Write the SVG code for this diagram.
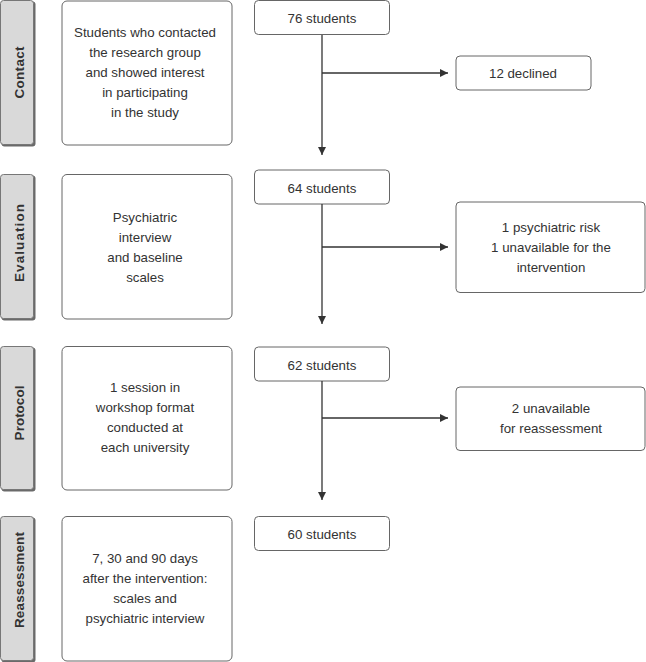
<svg xmlns="http://www.w3.org/2000/svg" width="646" height="662" viewBox="0 0 646 662">
<style>
.bg{fill:#ffffff}
.box{fill:#ffffff;stroke:#666666;stroke-width:1}
.lab{fill:#d9d9d9;stroke:#777777;stroke-width:1}
.shadow{fill:#6a6a6a}
.t{font-family:"Liberation Sans",Arial,sans-serif;font-size:13.3px;fill:#333333;text-anchor:middle}
.lt{font-family:"Liberation Sans",Arial,sans-serif;font-size:13.5px;font-weight:bold;fill:#333333;text-anchor:middle}
.ln{stroke:#333333;stroke-width:1.3;fill:none}
</style>
<defs>
<marker id="ah" markerWidth="10" markerHeight="10" refX="9" refY="5" orient="auto" markerUnits="userSpaceOnUse">
<path d="M1,1 L9,5 L1,9 Z" fill="#333333"/>
</marker>
</defs>
<rect class="bg" x="0" y="0" width="646" height="662"/>

<g id="label-contact">
<rect class="shadow" x="1.5" y="1.5" width="34" height="145" rx="3"/>
<rect class="lab" x="0.5" y="0.5" width="33" height="144" rx="3"/>
<text class="lt" transform="translate(23.5,72.5) rotate(-90)" textLength="52" lengthAdjust="spacing">Contact</text>
</g>
<g id="label-evaluation">
<rect class="shadow" x="1.5" y="175.5" width="34" height="145" rx="3"/>
<rect class="lab" x="0.5" y="174.5" width="33" height="144" rx="3"/>
<text class="lt" transform="translate(23.5,243) rotate(-90)" textLength="78" lengthAdjust="spacing">Evaluation</text>
</g>
<g id="label-protocol">
<rect class="shadow" x="1.5" y="347.5" width="34" height="144" rx="3"/>
<rect class="lab" x="0.5" y="346.5" width="33" height="143" rx="3"/>
<text class="lt" transform="translate(23.5,413) rotate(-90)">Protocol</text>
</g>
<g id="label-reassessment">
<rect class="shadow" x="1.5" y="517.5" width="34" height="145" rx="3"/>
<rect class="lab" x="0.5" y="516.5" width="33" height="144" rx="3"/>
<text class="lt" transform="translate(23.5,580) rotate(-90)" textLength="96" lengthAdjust="spacing">Reassessment</text>
</g>

<g id="desc-contact">
<rect class="box" x="62" y="1" width="170" height="144" rx="5"/>
<text class="t" x="145" y="37">Students who contacted</text>
<text class="t" x="145" y="57">the research group</text>
<text class="t" x="145" y="77">and showed interest</text>
<text class="t" x="145" y="97">in participating</text>
<text class="t" x="145" y="117">in the study</text>
</g>
<g id="desc-evaluation">
<rect class="box" x="62" y="174.5" width="170" height="144.5" rx="5"/>
<text class="t" x="145" y="222">Psychiatric</text>
<text class="t" x="145" y="242">interview</text>
<text class="t" x="145" y="262">and baseline</text>
<text class="t" x="145" y="282">scales</text>
</g>
<g id="desc-protocol">
<rect class="box" x="62" y="346.5" width="170" height="143.5" rx="5"/>
<text class="t" x="145" y="392">1 session in</text>
<text class="t" x="145" y="412">workshop format</text>
<text class="t" x="145" y="432">conducted at</text>
<text class="t" x="145" y="452">each university</text>
</g>
<g id="desc-reassessment">
<rect class="box" x="62" y="516.5" width="170" height="144.5" rx="5"/>
<text class="t" x="145" y="563">7, 30 and 90 days</text>
<text class="t" x="145" y="583">after the intervention:</text>
<text class="t" x="145" y="603">scales and</text>
<text class="t" x="145" y="623">psychiatric interview</text>
</g>

<g id="n76">
<rect class="box" x="254.5" y="0.5" width="135" height="34" rx="4"/>
<text class="t" x="322" y="23">76 students</text>
</g>
<g id="n64">
<rect class="box" x="254.5" y="170" width="135" height="34" rx="4"/>
<text class="t" x="322" y="192.5">64 students</text>
</g>
<g id="n62">
<rect class="box" x="254.5" y="347" width="135" height="34" rx="4"/>
<text class="t" x="322" y="369.5">62 students</text>
</g>
<g id="n60">
<rect class="box" x="254.5" y="516.5" width="135" height="34" rx="4"/>
<text class="t" x="322" y="539">60 students</text>
</g>

<g id="ex-declined">
<rect class="box" x="456" y="56" width="135" height="34" rx="4"/>
<text class="t" x="523" y="78">12 declined</text>
</g>
<g id="ex-evaluation">
<rect class="box" x="456" y="202" width="189" height="90.5" rx="4"/>
<text class="t" x="551" y="232">1 psychiatric risk</text>
<text class="t" x="551" y="252">1 unavailable for the</text>
<text class="t" x="551" y="272">intervention</text>
</g>
<g id="ex-protocol">
<rect class="box" x="456" y="387" width="189" height="63.5" rx="4"/>
<text class="t" x="551" y="413">2 unavailable</text>
<text class="t" x="551" y="433">for reassessment</text>
</g>

<g id="connectors">
<line class="ln" x1="322" y1="35" x2="322" y2="155" marker-end="url(#ah)"/>
<line class="ln" x1="322" y1="73" x2="448" y2="73" marker-end="url(#ah)"/>
<line class="ln" x1="322" y1="204" x2="322" y2="324" marker-end="url(#ah)"/>
<line class="ln" x1="322" y1="247" x2="448" y2="247" marker-end="url(#ah)"/>
<line class="ln" x1="322" y1="381" x2="322" y2="500" marker-end="url(#ah)"/>
<line class="ln" x1="322" y1="418" x2="448" y2="418" marker-end="url(#ah)"/>
</g>
</svg>
